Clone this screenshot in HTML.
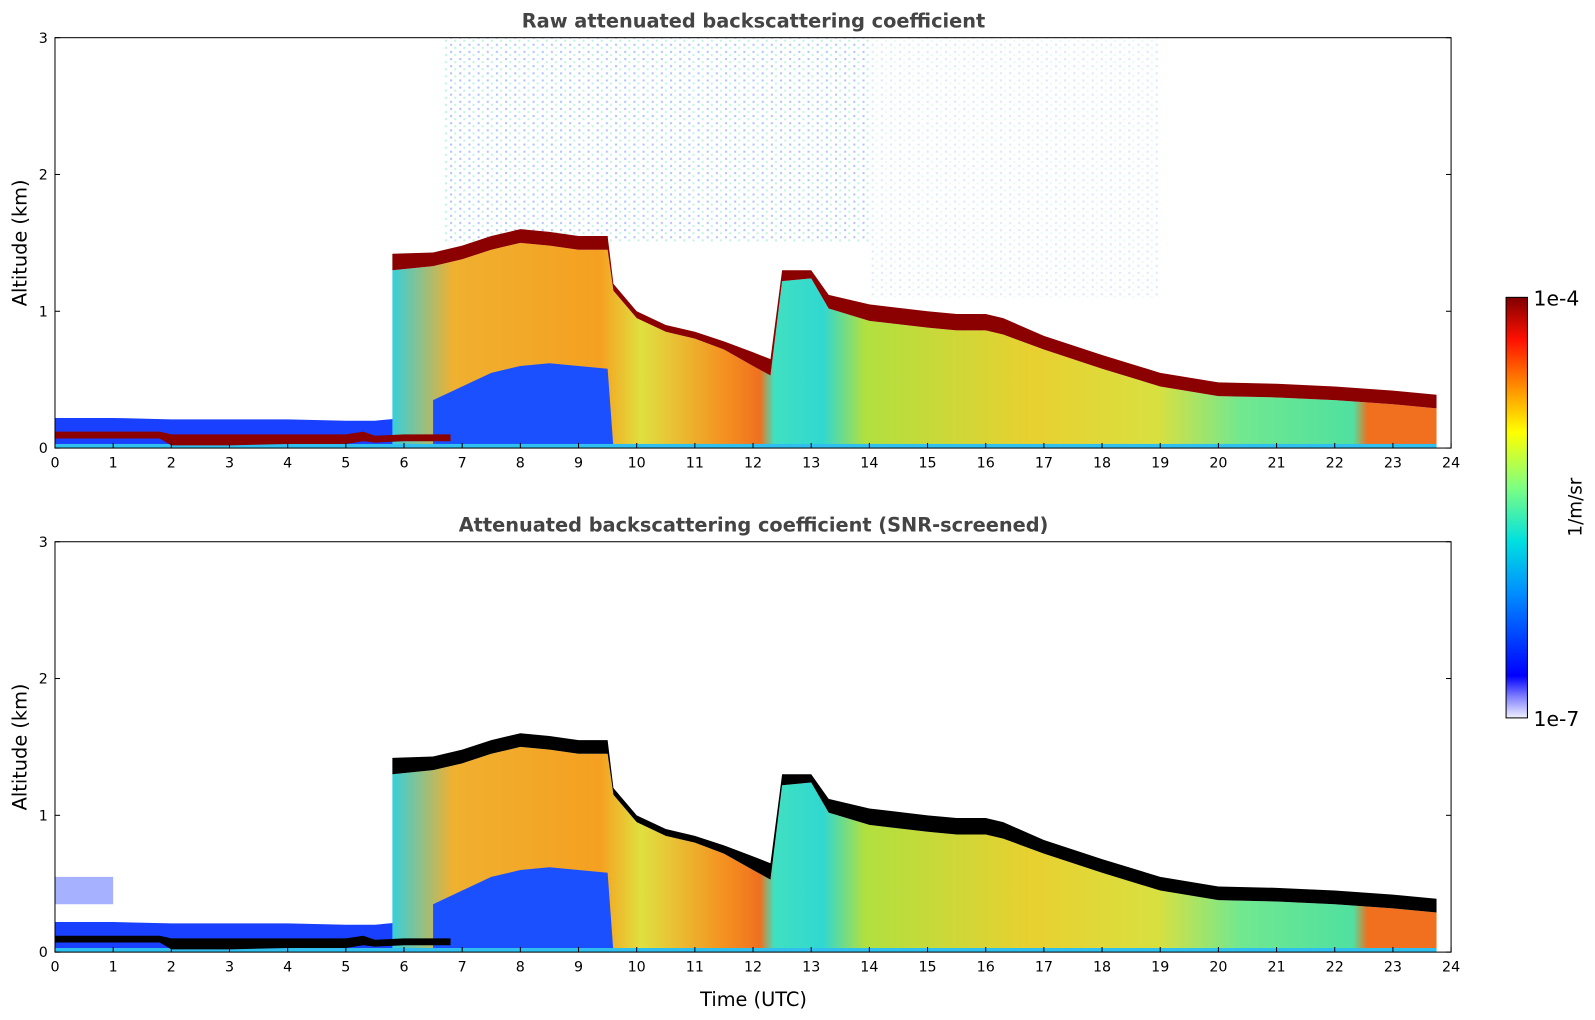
<!DOCTYPE html>
<html><head><meta charset="utf-8">
<style>
html,body{margin:0;padding:0;background:#fff;overflow:hidden;width:1595px;height:1020px;font-family:"Liberation Sans","DejaVu Sans",sans-serif;}
svg{display:block;}
svg text{font-family:"DejaVu Sans","Liberation Sans",sans-serif;}
</style></head>
<body>
<svg id="chart" width="1595" height="1020" viewBox="0 0 1595 1020" xmlns="http://www.w3.org/2000/svg">
<defs>
<linearGradient id="fillGrad" x1="54" x2="1425" y1="0" y2="0" gradientUnits="userSpaceOnUse">
<stop offset="0.24" stop-color="#30d0e0"/>
<stop offset="0.285" stop-color="#f0b030"/>
<stop offset="0.39" stop-color="#f5a020"/>
<stop offset="0.42" stop-color="#e0e040"/>
<stop offset="0.48" stop-color="#f59020"/>
<stop offset="0.505" stop-color="#f07020"/>
<stop offset="0.515" stop-color="#40e0c0"/>
<stop offset="0.55" stop-color="#30d8d0"/>
<stop offset="0.58" stop-color="#b0e040"/>
<stop offset="0.7" stop-color="#e8d030"/>
<stop offset="0.79" stop-color="#d8e040"/>
<stop offset="0.85" stop-color="#70e890"/>
<stop offset="0.93" stop-color="#50e0a0"/>
<stop offset="0.94" stop-color="#f07020"/>
</linearGradient>
<linearGradient id="cbGrad" x1="0" x2="0" y1="1" y2="0">
<stop offset="0" stop-color="#f0f0ff"/>
<stop offset="0.05" stop-color="#8080ff"/>
<stop offset="0.1" stop-color="#0000ff"/>
<stop offset="0.3" stop-color="#0090ff"/>
<stop offset="0.42" stop-color="#00e0e0"/>
<stop offset="0.55" stop-color="#80ff80"/>
<stop offset="0.68" stop-color="#ffff00"/>
<stop offset="0.8" stop-color="#ff8000"/>
<stop offset="0.9" stop-color="#ff1000"/>
<stop offset="1" stop-color="#800000"/>
</linearGradient>
<pattern id="speck" width="9" height="7" patternUnits="userSpaceOnUse">
<rect x="1" y="1" width="2" height="2" fill="#2050ff"/>
<rect x="5" y="4" width="2" height="2" fill="#40e0b0"/>
</pattern>
</defs>
<g transform="scale(1.0183)">
<g id="panels"></g>
<g>
<rect x="1479" y="292" width="21" height="413" fill="url(#cbGrad)" stroke="#000" stroke-width="1"/>
<text x="1506" y="300" font-size="20">1e-4</text>
<text x="1506" y="713" font-size="20">1e-7</text>
<text transform="translate(1553,498) rotate(-90)" text-anchor="middle" font-size="18">1/m/sr</text>
</g>
<text x="740" y="988" text-anchor="middle" font-size="19">Time (UTC)</text>
</g>
</svg>
<script>
const cloudTimes=[5.8,6.5,7,7.5,8,8.5,9,9.5,9.6,10,10.5,11,11.5,12,12.3,12.5,13,13.3,14,15,15.5,16,16.3,17,18,19,20,21,22,23,23.75];
const cloudTops=[1.42,1.43,1.48,1.55,1.6,1.58,1.55,1.55,1.2,1.0,0.9,0.85,0.78,0.7,0.65,1.3,1.3,1.12,1.05,1.0,0.98,0.98,0.95,0.82,0.68,0.55,0.48,0.47,0.45,0.42,0.39];
const bandThick=[0.12,0.1,0.1,0.1,0.1,0.1,0.1,0.1,0.05,0.05,0.05,0.05,0.06,0.1,0.12,0.08,0.06,0.1,0.12,0.12,0.12,0.12,0.12,0.1,0.1,0.1,0.1,0.1,0.1,0.1,0.1];
const blueTimes=[6.5,7,7.5,8,8.5,9,9.5,9.6];
const blueTops=[0.35,0.45,0.55,0.6,0.62,0.6,0.58,0.0];
const lowTimes=[0,1,2,3,4,5,5.5,6,6.8];
const lowTops=[0.22,0.22,0.21,0.21,0.21,0.2,0.2,0.22,0.2];
const lowBandTimes=[0,1,1.8,2,3,4,5,5.3,5.5,6,6.8];
const lowBandTop=[0.12,0.12,0.12,0.1,0.1,0.1,0.1,0.12,0.09,0.1,0.1];
const lowBandBot=[0.07,0.07,0.07,0.02,0.02,0.03,0.03,0.05,0.04,0.05,0.05];
const xTicks=[0,1,2,3,4,5,6,7,8,9,10,11,12,13,14,15,16,17,18,19,20,21,22,23,24];
const yTicks=[0,1,2,3];
const panels=[{top:37,title:"Raw attenuated backscattering coefficient",band:"#8b0000",name:"raw"},
{top:532,title:"Attenuated backscattering coefficient (SNR-screened)",band:"#000000",name:"screened"}];
const NS="http://www.w3.org/2000/svg";
const X0=54,X1=1425,H=403;
const x=t=>X0+t*(X1-X0)/24;
function mk(tag,attrs,parent){const e=document.createElementNS(NS,tag);for(const k in attrs)e.setAttribute(k,attrs[k]);parent.appendChild(e);return e;}
const root=document.getElementById('panels');
panels.forEach(p=>{
const y=a=>p.top+(3-a)/3*H;
const g=mk('g',{},root);


if(p.name==='raw'){
 const s=mk('rect',{x:x(6.7),y:y(3),width:x(14)-x(6.7),height:y(1.5)-y(3),fill:'url(#speck)',opacity:0.35},g);
 
 
 const s2=mk('rect',{x:x(14),y:y(3),width:x(19)-x(14),height:y(1.1)-y(3),fill:'url(#speck)',opacity:0.15},g);
 
 
}
let pts=lowTimes.map((t,i)=>x(t)+','+y(lowTops[i]));
pts.push(x(lowTimes[lowTimes.length-1])+','+y(0),x(lowTimes[0])+','+y(0));
let e=mk('polygon',{points:pts.join(' '),fill:'#1a40ff'},g);


if(p.name==='screened'){
 const r=mk('rect',{x:x(0),y:y(0.55),width:x(1)-x(0),height:y(0.35)-y(0.55),fill:'#8090ff',opacity:0.7},g);
 
 
}
pts=cloudTimes.map((t,i)=>x(t)+','+y(cloudTops[i]-bandThick[i]));
pts.push(x(23.75)+','+y(0),x(5.8)+','+y(0));
e=mk('polygon',{points:pts.join(' '),fill:'url(#fillGrad)'},g);


pts=blueTimes.map((t,i)=>x(t)+','+y(blueTops[i]));
pts.push(x(9.6)+','+y(0),x(6.5)+','+y(0));
e=mk('polygon',{points:pts.join(' '),fill:'#1a50ff'},g);


e=mk('rect',{x:x(0),y:y(0.03),width:x(23.75)-x(0),height:y(0)-y(0.03),fill:'#30c0f0'},g);


pts=lowBandTimes.map((t,i)=>x(t)+','+y(lowBandTop[i]));
for(let i=lowBandTimes.length-1;i>=0;i--)pts.push(x(lowBandTimes[i])+','+y(lowBandBot[i]));
e=mk('polygon',{points:pts.join(' '),fill:p.band},g);


pts=cloudTimes.map((t,i)=>x(t)+','+y(cloudTops[i]));
for(let i=cloudTimes.length-1;i>=0;i--)pts.push(x(cloudTimes[i])+','+y(cloudTops[i]-bandThick[i]));
e=mk('polygon',{points:pts.join(' '),fill:p.band},g);


e=mk('rect',{x:X0,y:p.top,width:X1-X0,height:H,fill:'none',stroke:'#000','stroke-width':1},g);


e=mk('text',{x:740,y:p.top-10,'text-anchor':'middle','font-size':19,'font-weight':'bold',fill:'#444'},g);
e.textContent=p.title;


xTicks.forEach(t=>{
 let l=mk('line',{x1:x(t),x2:x(t),y1:p.top+H,y2:p.top+H-5,stroke:'#000'},g);
 
 
 let tx=mk('text',{x:x(t),y:p.top+H+19,'text-anchor':'middle','font-size':14},g);
 tx.textContent=t;
 
 
});
yTicks.forEach(a=>{
 let l=mk('line',{x1:X0,x2:X0+5,y1:y(a),y2:y(a),stroke:'#000'},g);
 
 
 l=mk('line',{x1:X1,x2:X1-5,y1:y(a),y2:y(a),stroke:'#000'},g);
 
 
 let tx=mk('text',{x:X0-7,y:y(a)+5,'text-anchor':'end','font-size':14},g);
 tx.textContent=a;
 
 
});
e=mk('text',{transform:`translate(26,${p.top+H/2}) rotate(-90)`,'text-anchor':'middle','font-size':19},g);
e.textContent='Altitude (km)';


});
</script>
</body></html>
